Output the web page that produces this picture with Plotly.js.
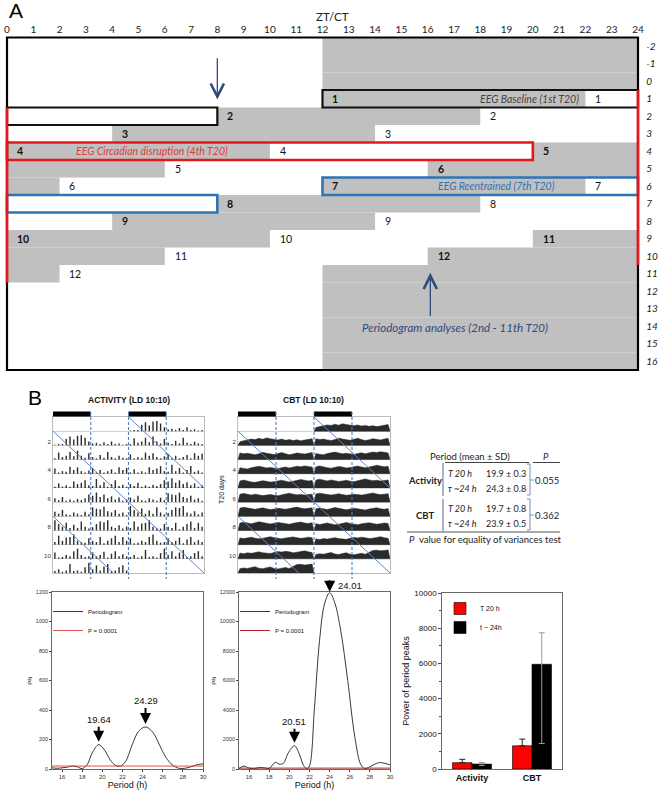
<!DOCTYPE html>
<html><head><meta charset="utf-8">
<script src="https://cdn.plot.ly/plotly-3.0.1.min.js"></script>
<style>html,body{margin:0;padding:0;background:#fff;}#chart{width:658px;height:791px;}</style>
</head><body><div id="chart"></div>
<script>
// ================= DATA =================
// Panel A: schedule (ZT/CT hours, day rows)
const ztTicks = [0,1,2,3,4,5,6,7,8,9,10,11,12,13,14,15,16,17,18,19,20,21,22,23,24];
const dayRows = [-2,-1,0,1,2,3,4,5,6,7,8,9,10,11,12,13,14,15,16];
// dark (grey) segments
const darkRow   = [-2,-1,0,1,2,3,4,4,5,5,6,6,7,8,9,9,10,10,11,11,12,13,14,15,16];
const darkStart = [12,12,12,12,8,4,0,20,0,16,0,12,8,4,0,20,0,16,0,12,12,12,12,12,12];
const darkEnd   = [24,24,24,22,18,14,10,24,6,24,2,22,18,14,10,24,6,24,2,24,24,24,24,24,24];
// T20 dark-phase numbers (bold) and light-phase numbers
const darkLabRow  = [1,2,3,4,4,5,6,7,8,9,9,10];
const darkLabX    = [12,8,4,0,20,16,12,8,4,0,20,16];
const darkLabTxt  = ['1','2','3','4','5','6','7','8','9','10','11','12'];
const lightLabRow = [1,2,3,4,5,6,6,7,8,9,10,11];
const lightLabX   = [22,18,14,10,6,2,22,18,14,10,6,2];
const lightLabTxt = ['1','2','3','4','5','6','7','8','9','10','11','12'];
// EEG recording windows
const recRow   = [1,2,4,6,7];
const recStart = [12,0,0,12,0];
const recEnd   = [24,8,20,24,8];
const recKind  = ['base','base','disr','reent','reent'];

// Panel B: actograms (relative heights per 1-h bin, 20 bins per T20 day, days 1-10)
const activityByDay = [
 [0.05,0.10,0.10,0.50,0.70,0.45,0.75,0.80,0.60,0.30,0.15,0.20,0.10,0.25,0.10,0.30,0.10,0.15,0.05,0.10],
 [0.10,0.55,0.20,0.30,0.60,0.25,0.70,0.30,0.15,0.50,0.20,0.10,0.35,0.15,0.60,0.20,0.10,0.30,0.15,0.10],
 [0.40,0.10,0.20,0.15,0.55,0.30,0.50,0.20,0.10,0.25,0.45,0.10,0.30,0.10,0.20,0.35,0.10,0.50,0.30,0.45],
 [0.10,0.35,0.10,0.20,0.10,0.50,0.30,0.40,0.60,0.20,0.15,0.70,0.20,0.45,0.10,0.30,0.60,0.15,0.25,0.10],
 [0.30,0.15,0.40,0.10,0.20,0.10,0.25,0.15,0.30,0.60,0.50,0.75,0.40,0.60,0.30,0.45,0.20,0.35,0.10,0.20],
 [0.35,0.20,0.50,0.15,0.10,0.30,0.20,0.10,0.35,0.15,0.70,0.60,0.55,0.75,0.40,0.30,0.50,0.20,0.30,0.10],
 [0.80,0.50,0.30,0.60,0.20,0.45,0.20,0.70,0.30,0.15,0.25,0.50,0.70,0.65,0.80,0.30,0.20,0.40,0.15,0.30],
 [0.20,0.70,0.30,0.55,0.60,0.80,0.30,0.20,0.15,0.50,0.30,0.20,0.60,0.10,0.30,0.50,0.70,0.20,0.60,0.30],
 [0.50,0.10,0.15,0.30,0.20,0.60,0.80,0.30,0.15,0.20,0.50,0.20,0.30,0.55,0.10,0.40,0.60,0.20,0.35,0.20],
 [0.15,0.30,0.10,0.20,0.70,0.15,0.20,0.10,0.45,0.80,0.30,0.60,0.20,0.50,0.70,0.15,0.20,0.45,0.60,0.20]
];
const cbtByDay = [
 [0.30,0.38,0.45,0.52,0.48,0.58,0.50,0.62,0.55,0.50,0.45,0.52,0.42,0.48,0.40,0.46,0.38,0.44,0.50,0.55],
 [0.55,0.48,0.52,0.45,0.40,0.48,0.60,0.52,0.46,0.42,0.50,0.58,0.48,0.40,0.46,0.55,0.50,0.45,0.52,0.58],
 [0.50,0.44,0.40,0.50,0.58,0.62,0.55,0.48,0.52,0.46,0.42,0.50,0.56,0.48,0.55,0.62,0.58,0.65,0.60,0.55],
 [0.58,0.65,0.55,0.50,0.46,0.52,0.60,0.55,0.48,0.52,0.58,0.64,0.56,0.50,0.55,0.62,0.70,0.64,0.58,0.62],
 [0.65,0.72,0.62,0.58,0.66,0.60,0.54,0.58,0.64,0.56,0.52,0.60,0.68,0.74,0.66,0.60,0.64,0.58,0.62,0.66],
 [0.68,0.74,0.70,0.62,0.58,0.64,0.70,0.62,0.56,0.60,0.66,0.62,0.58,0.64,0.72,0.76,0.68,0.62,0.66,0.70],
 [0.62,0.68,0.60,0.56,0.64,0.72,0.66,0.58,0.54,0.60,0.66,0.62,0.58,0.52,0.60,0.66,0.70,0.62,0.58,0.64],
 [0.56,0.50,0.58,0.62,0.54,0.48,0.52,0.60,0.66,0.58,0.52,0.48,0.55,0.60,0.64,0.58,0.52,0.56,0.62,0.58],
 [0.48,0.42,0.50,0.46,0.52,0.58,0.50,0.46,0.44,0.52,0.60,0.56,0.62,0.58,0.50,0.54,0.62,0.66,0.58,0.52],
 [0.36,0.42,0.38,0.46,0.52,0.40,0.36,0.44,0.50,0.38,0.34,0.40,0.46,0.38,0.56,0.70,0.72,0.66,0.70,0.74]
];
const actoRowLabels = ['2','4','6','8','10'];
const actoRowLabelDays = [2,4,6,8,10];

// Periodograms
const perActX = [15.0,15.5,16.0,16.5,17.0,17.5,18.0,18.5,19.0,19.64,20.2,20.8,21.3,21.8,22.3,23.0,23.6,24.29,25.0,25.7,26.3,27.0,27.6,28.2,28.8,29.4,30.0];
const perActY = [8,5,8,12,20,15,3,30,110,165,130,60,25,20,50,170,255,285,250,160,80,25,5,5,15,28,35];
const perCbtX = [15.0,15.5,16.0,16.5,17.0,17.5,18.0,18.6,19.0,19.4,19.9,20.51,21.0,21.4,21.75,22.0,22.5,23.0,23.5,24.01,24.5,25.1,25.8,26.5,27.1,27.5,28.0,28.9,29.5,30.0];
const perCbtY = [30,200,60,20,100,80,40,450,330,380,1100,1580,1000,250,20,200,4200,8700,11200,11950,11300,9400,6000,2200,300,30,150,430,380,280];
const sigAct = 20;   // P = 0.0001 threshold
const sigCbt = 60;
const peakAct = [19.64, 24.29];
const peakActY = [165, 285];
const peakCbt = [20.51, 24.01];
const peakCbtY = [1580, 11950];

// Power of period peaks
const powerCats = ['Activity','CBT'];
const powerT20 = [360, 1320];
const powerT20Err = [190, 380];
const powerTau = [280, 5950];
const powerTauErrUp = [80, 1790];
const powerTauErrDown = [80, 4500];

// ================= HELPERS =================
const W=658, H=791;
const PX = p => p/W;
const PY = p => 1 - p/H;
const SANS = 'Liberation Sans, Arial, sans-serif';
const CAL = 'Lato, Open Sans, sans-serif';
const recColor = {base:'#111111', disr:'#e8161b', reent:'#2e75b6'};

const traces = [];
const shapes = [];
const ann = [];
function P(x,y,text,font,opt){ ann.push(Object.assign({xref:'paper', yref:'paper', x:PX(x), y:PY(y), text:text, showarrow:false,
  xanchor:'center', yanchor:'middle', font:font}, opt||{})); }

// ================= PANEL A =================
darkRow.forEach((r,i)=>{
  shapes.push({type:'rect', xref:'x', yref:'y', x0:darkStart[i], x1:darkEnd[i], y0:r-0.5, y1:r+0.5,
    fillcolor:'#c0c0c0', line:{width:0}, layer:'below'});
});
recRow.forEach((r,i)=>{
  shapes.push({type:'rect', xref:'x', yref:'y', x0:recStart[i], x1:recEnd[i], y0:r-0.5, y1:r+0.5,
    fillcolor:'rgba(0,0,0,0)', line:{color:recColor[recKind[i]], width:recKind[i]==='base'?2.2:2.6}});
});
// outer frame
shapes.push({type:'rect', xref:'x', yref:'y', x0:0, x1:24, y0:dayRows[0]-0.5, y1:dayRows[dayRows.length-1]+0.5,
  fillcolor:'rgba(0,0,0,0)', line:{color:'#000', width:2.2}});
// red T20 span edges
shapes.push({type:'line', xref:'x', yref:'y', x0:0, x1:0, y0:1.5, y1:11.5, line:{color:'#e8161b', width:2.6}});
shapes.push({type:'line', xref:'x', yref:'y', x0:24, x1:24, y0:0.5, y1:10.5, line:{color:'#e8161b', width:2.6}});

darkLabRow.forEach((r,i)=>{
  ann.push({xref:'x', yref:'y', x:darkLabX[i]+0.3, y:r, text:'<b>'+darkLabTxt[i]+'</b>', showarrow:false,
    xanchor:'left', yanchor:'middle', font:{family:CAL, size:10.5, color:'#111'}});
});
lightLabRow.forEach((r,i)=>{
  ann.push({xref:'x', yref:'y', x:lightLabX[i]+0.3, y:r, text:lightLabTxt[i], showarrow:false,
    xanchor:'left', yanchor:'middle', font:{family:CAL, size:10.5, color:'#111'}});
});
ann.push({xref:'x', yref:'y', x:21.85, y:1, text:'<i>EEG Baseline (1st T20)</i>', showarrow:false, xanchor:'right', yanchor:'middle',
  font:{family:CAL, size:10.5, color:'#444'}});
ann.push({xref:'x', yref:'y', x:5.5, y:4, text:'<i>EEG Circadian disruption (4th T20)</i>', showarrow:false, xanchor:'center', yanchor:'middle',
  font:{family:CAL, size:10.5, color:'#e03a3a'}});
ann.push({xref:'x', yref:'y', x:18.6, y:6, text:'<i>EEG Reentrained (7th T20)</i>', showarrow:false, xanchor:'center', yanchor:'middle',
  font:{family:CAL, size:10.5, color:'#2e75b6'}});
ann.push({xref:'x', yref:'y', x:17.05, y:14.05, text:'<i>Periodogram analyses (2nd - 11th T20)</i>', showarrow:false, xanchor:'center', yanchor:'middle',
  font:{family:CAL, size:11.5, color:'#2f4a7c'}});
// arrows
ann.push({xref:'x', yref:'y', x:8, y:1.05, axref:'x', ayref:'y', ax:8, ay:-1.4, text:'', showarrow:true,
  arrowhead:5, arrowsize:2, arrowwidth:1.3, arrowcolor:'#2f4a7c'});
ann.push({xref:'x', yref:'y', x:16.1, y:10.95, axref:'x', ayref:'y', ax:16.1, ay:13.5, text:'', showarrow:true,
  arrowhead:5, arrowsize:2, arrowwidth:1.3, arrowcolor:'#2f4a7c'});
// axis title + panel letters
P(333,17,'ZT/CT',{family:CAL, size:11.5, color:'#222'});
P(16,11,'A',{family:SANS, size:21, color:'#000'});
P(35,398,'B',{family:SANS, size:21, color:'#000'});

// ================= PANEL B: ACTOGRAMS =================
function actogram(xa, ya, kind){
  const xr = 'x'+xa, yr = 'y'+ya;
  if(kind==='act'){
    const bx=[], by=[], bb=[];
    activityByDay.forEach((vals,d)=>{
      const day=d+1;
      vals.forEach((v,i)=>{
        bx.push(20+i+0.5); by.push(v*0.9); bb.push(11-day);
        bx.push(i+0.5);    by.push(v*0.9); bb.push(10-day);
      });
    });
    traces.push({type:'bar', x:bx, y:by, base:bb, xaxis:xr, yaxis:yr, width:0.38,
      marker:{color:'#2d2d2d', line:{width:0}}, showlegend:false, hoverinfo:'skip'});
  } else {
    cbtByDay.forEach((vals,d)=>{
      const day=d+1;
      [[20, 11-day],[0, 10-day]].forEach(([off,base])=>{
        const xs=[off], ys=[base];
        vals.forEach((v,i)=>{ xs.push(off+i+0.5); ys.push(base+v*0.85); });
        xs.push(off+20, off); ys.push(base, base);
        traces.push({type:'scatter', mode:'lines', x:xs, y:ys, fill:'toself', fillcolor:'#2a2a2a',
          line:{color:'#2a2a2a', width:0.5}, xaxis:xr, yaxis:yr, showlegend:false, hoverinfo:'skip'});
      });
    });
  }
  // LD bars on top
  [[0,10],[20,30]].forEach(([a,b])=>{
    shapes.push({type:'rect', xref:xr, yref:'paper', x0:a, x1:b, y0:PY(416.5), y1:PY(411.5), fillcolor:'#000', line:{width:0}});
  });
  [10,20,30].forEach(h=>{
    shapes.push({type:'line', xref:xr, yref:'paper', x0:h, x1:h, y0:PY(412), y1:PY(579),
      line:{color:'#4f7fbf', width:1.1, dash:'3px,2px'}});
  });
  // drift lines (tau ~24 h on a T20 plot: 4 h per row)
  [0,1,2].forEach(k=>{
    const x0 = 20-20*k, r0 = k;
    shapes.push({type:'line', xref:xr, yref:yr, x0:x0 - 4*r0, y0:11, x1:x0 + 4*(11-r0), y1:0,
      line:{color:'#5b87c5', width:1}});
  });
}
actogram(2,2,'act');
actogram(3,3,'cbt');
P(129,400,'<b>ACTIVITY (LD 10:10)</b>',{family:SANS, size:8.5, color:'#111'});
P(313,400,'<b>CBT (LD 10:10)</b>',{family:SANS, size:8.5, color:'#111'});
P(222,490,'T20 days',{family:SANS, size:7, color:'#222'},{textangle:-90});

// ================= TABLE =================
const TF = {family:CAL, size:9.5, color:'#222'};
const TFs = {family:CAL, size:9, color:'#222'};
P(470,456,'Period (mean ± SD)',TF);
P(546,456,'<i>P</i>',TF);
P(425,480,'<b>Activity</b>',TF);
P(446,473,'<i>T 20 h</i>',TFs,{xanchor:'left'});
P(506,473,'19.9 ± 0.3',TFs);
P(446,488,'<i>τ ~24 h</i>',TFs,{xanchor:'left'});
P(506,488,'24.3 ± 0.8',TFs);
P(547,480,'0.055',TF);
P(425,515,'<b>CBT</b>',TF);
P(446,508,'<i>T 20 h</i>',TFs,{xanchor:'left'});
P(506,508,'19.7 ± 0.8',TFs);
P(446,523,'<i>τ ~24 h</i>',TFs,{xanchor:'left'});
P(506,523,'23.9 ± 0.5',TFs);
P(547,515,'0.362',TF);
P(407,539,'<i>P</i>  value for equality of variances test',{family:CAL, size:9.5, color:'#222'},{xanchor:'left'});
function L(x0,y0,x1,y1,c,w){ shapes.push({type:'line', xref:'paper', yref:'paper', x0:PX(x0), y0:PY(y0), x1:PX(x1), y1:PY(y1), line:{color:c, width:w}}); }
L(445,462.5,529,462.5,'#444',1);
L(533,462.5,560,462.5,'#444',1);
L(407,532,560,532,'#555',1.2);
L(443,463,443,496,'#4f6d9a',1);
L(443,499,443,531,'#4f6d9a',1);
[[464,495,480],[499,530,515]].forEach(([a,b,m])=>{
  L(530,a,530,b,'#7090c0',1); L(527,a,530,a,'#7090c0',1); L(527,b,530,b,'#7090c0',1); L(530,m,534,m,'#7090c0',1);
});

// ================= PERIODOGRAMS =================
traces.push({type:'scatter', mode:'lines', x:perActX, y:perActY, xaxis:'x4', yaxis:'y4', name:'Periodogram',
  line:{color:'#222', width:0.9, shape:'spline', smoothing:1}, legend:'legend'});
traces.push({type:'scatter', mode:'lines', x:[15,30], y:[sigAct,sigAct], xaxis:'x4', yaxis:'y4', name:'P = 0.0001',
  line:{color:'#d84040', width:0.9}, legend:'legend'});
traces.push({type:'scatter', mode:'lines', x:perCbtX, y:perCbtY, xaxis:'x5', yaxis:'y5', name:'Periodogram',
  line:{color:'#222', width:0.9, shape:'spline', smoothing:1}, legend:'legend2'});
traces.push({type:'scatter', mode:'lines', x:[15,30], y:[sigCbt,sigCbt], xaxis:'x5', yaxis:'y5', name:'P = 0.0001',
  line:{color:'#b02020', width:1}, legend:'legend2'});
const pkFont = {family:SANS, size:9.5, color:'#111'};
ann.push({xref:'x4', yref:'y4', x:peakAct[0], y:peakActY[0], ax:0, ay:-25, text:String(peakAct[0]), showarrow:true,
  arrowhead:2, arrowsize:1.1, arrowwidth:2, arrowcolor:'#000', standoff:3, font:pkFont});
ann.push({xref:'x4', yref:'y4', x:peakAct[1], y:peakActY[1], ax:0, ay:-26, text:String(peakAct[1]), showarrow:true,
  arrowhead:2, arrowsize:1.1, arrowwidth:2, arrowcolor:'#000', standoff:3, font:pkFont});
ann.push({xref:'x5', yref:'y5', x:peakCbt[0], y:peakCbtY[0], ax:0, ay:-24, text:String(peakCbt[0]), showarrow:true,
  arrowhead:2, arrowsize:1.1, arrowwidth:2, arrowcolor:'#000', standoff:3, font:pkFont});
ann.push({xref:'x5', yref:'y5', x:peakCbt[1], y:peakCbtY[1], ax:0, ay:-14, text:'', showarrow:true,
  arrowhead:2, arrowsize:1.1, arrowwidth:2, arrowcolor:'#000', standoff:1});
ann.push({xref:'x5', yref:'y5', x:peakCbt[1], y:peakCbtY[1], xshift:6, yshift:7, xanchor:'left', yanchor:'middle', text:String(peakCbt[1]), showarrow:false, font:pkFont});

// ================= BAR CHART =================
traces.push({type:'bar', x:powerCats, y:powerT20, name:'T 20 h', xaxis:'x6', yaxis:'y6', legend:'legend3',
  marker:{color:'#ff0000', line:{color:'#000', width:0.6}},
  error_y:{type:'data', array:powerT20Err, arrayminus:[0,0], symmetric:false, color:'#222', thickness:1, width:3}});
traces.push({type:'bar', x:powerCats, y:powerTau, name:'t ~ 24h', xaxis:'x6', yaxis:'y6', legend:'legend3',
  marker:{color:'#000', line:{color:'#000', width:0.6}},
  error_y:{type:'data', array:powerTauErrUp, arrayminus:powerTauErrDown, symmetric:false, color:'#999', thickness:1, width:3}});

// ================= LAYOUT =================
const actoX = (d)=>({domain:d, range:[0,40], showticklabels:false, ticks:'', showgrid:false, zeroline:false,
  showline:true, mirror:true, linecolor:'#bbb', linewidth:1, fixedrange:true});
const actoY = (d, anchor)=>({domain:d, range:[0,11], anchor:anchor, tickvals:actoRowLabelDays.map(r=>11.24-r), ticktext:actoRowLabels,
  tickfont:{family:SANS, size:6, color:'#333'}, ticks:'', showgrid:false, zeroline:false, showline:true, mirror:true,
  linecolor:'#bbb', linewidth:1, minor:{tickvals:[1,2,3,4,5,6,7,8,9,10], showgrid:true, gridcolor:'#bdbdbd', gridwidth:0.7, ticks:''}});
const perX = (d, anchor)=>({domain:d, anchor:anchor, range:[15,30], tickvals:[16,18,20,22,24,26,28,30], tickfont:{family:SANS, size:6, color:'#333'},
  ticks:'outside', ticklen:2, tickcolor:'#444', showline:true, mirror:true, linecolor:'#444', linewidth:0.8, showgrid:false, zeroline:false,
  title:{text:'Period (h)', font:{family:SANS, size:9, color:'#111'}, standoff:0}});
const perY = (d, anchor, max, step)=>{ const tv=[]; for(let v=0; v<=max; v+=step) tv.push(v);
  return {domain:d, anchor:anchor, range:[0,max], tickvals:tv, tickformat:'d', tickfont:{family:SANS, size:5.5, color:'#333'},
  ticks:'outside', ticklen:2, tickcolor:'#444', showline:true, mirror:true, linecolor:'#444', linewidth:0.8, showgrid:false, zeroline:false,
  title:{text:'PN', font:{family:SANS, size:6, color:'#111'}, standoff:2}}; };

const legendBase = {xref:'paper', yref:'paper', xanchor:'left', yanchor:'top', bgcolor:'rgba(0,0,0,0)', borderwidth:0,
  font:{family:SANS, size:6, color:'#111'}, itemwidth:30, tracegroupgap:0};

const layout = {
  width:W, height:H, margin:{l:0,r:0,t:0,b:0}, paper_bgcolor:'#fff', plot_bgcolor:'rgba(0,0,0,0)',
  showlegend:true, barmode:'group', bargap:0.35, bargroupgap:0,
  xaxis:{domain:[PX(1.74),PX(643.26)], range:[-0.2,24.2], side:'top', anchor:'y', tickvals:ztTicks, ticks:'',
    showgrid:false, zeroline:false, showline:false, tickfont:{family:CAL, size:10, color:'#222'}, fixedrange:true},
  yaxis:{domain:[PY(371.75),PY(35.75)], range:[16.6,-2.6], side:'right', anchor:'x', tickvals:dayRows,
    ticktext:dayRows.map(d=>'<i>'+d+'</i>'), ticks:'', showgrid:false, zeroline:false, showline:false,
    tickfont:{family:CAL, size:10, color:'#222'}, ticklabelstandoff:2},
  xaxis2:Object.assign(actoX([PX(53),PX(204)]),{anchor:'y2'}),
  yaxis2:actoY([PY(573),PY(417)],'x2'),
  xaxis3:Object.assign(actoX([PX(238),PX(390)]),{anchor:'y3'}),
  yaxis3:actoY([PY(573),PY(417)],'x3'),
  xaxis4:perX([PX(52),PX(203)],'y4'),
  yaxis4:perY([PY(769),PY(592)],'x4',1200,200),
  xaxis5:perX([PX(239),PX(390)],'y5'),
  yaxis5:perY([PY(769),PY(592)],'x5',12000,2000),
  xaxis6:{domain:[PX(442),PX(562)], anchor:'y6', type:'category', tickvals:powerCats, ticktext:powerCats.map(c=>'<b>'+c+'</b>'),
    tickfont:{family:SANS, size:9, color:'#111'}, ticks:'', showline:true, mirror:true, linecolor:'#444', linewidth:0.8, showgrid:false, zeroline:false},
  yaxis6:{domain:[PY(769),PY(593)], anchor:'x6', range:[0,10000], tickvals:[0,2000,4000,6000,8000,10000], tickformat:'d',
    tickfont:{family:SANS, size:8, color:'#111'}, ticks:'outside', ticklen:3, tickcolor:'#444',
    minor:{dtick:1000, ticks:'outside', ticklen:2, tickcolor:'#444'},
    showline:true, mirror:true, linecolor:'#444', linewidth:0.8, showgrid:false, zeroline:false,
    title:{text:'Power of period peaks', font:{family:SANS, size:9, color:'#111'}, standoff:3}},
  legend:Object.assign({}, legendBase, {x:PX(48), y:PY(597)}),
  legend2:Object.assign({}, legendBase, {x:PX(235), y:PY(597)}),
  legend3:Object.assign({}, legendBase, {x:PX(440), y:PY(594), font:{family:SANS, size:7, color:'#111'}}),
  shapes:shapes, annotations:ann
};
Plotly.newPlot('chart', traces, layout, {staticPlot:true, displayModeBar:false});
</script></body></html>
